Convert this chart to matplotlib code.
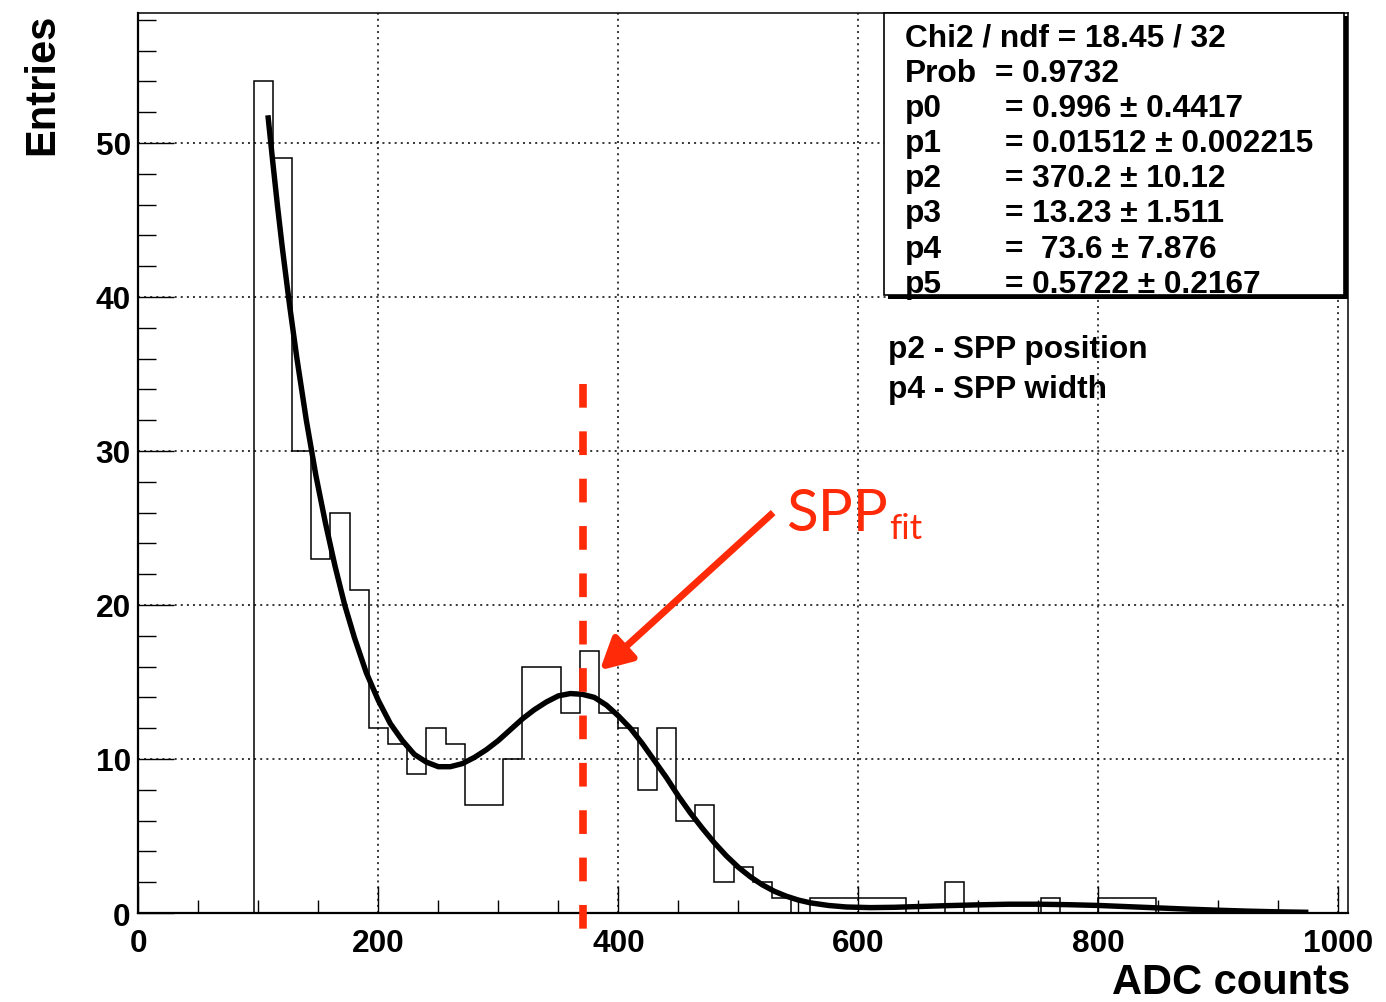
import matplotlib
matplotlib.use('Agg')
import matplotlib.pyplot as plt
import numpy as np
from matplotlib.patches import Rectangle
from matplotlib.ticker import MultipleLocator, FixedLocator

# ---------------- data ----------------
bin_width = 16
x_range = (0, 1008)
counts = [0, 0, 0, 0, 0, 0, 54, 49, 30, 23, 26, 21, 12, 11, 9, 12, 11, 7, 7, 10,
          16, 16, 13, 17, 13, 12, 8, 12, 6, 7, 2, 3, 2, 1, 0, 1, 1, 1, 1, 1,
          0, 0, 2, 0, 0, 0, 0, 1, 0, 0, 1, 1, 1, 0, 0, 0, 0, 0, 0, 0, 0, 0, 0]

fit_x = [108, 112, 116, 120, 126, 132, 140, 148, 156, 164, 172, 180, 190, 200, 210,
         220, 230, 240, 250, 260, 270, 280, 290, 300, 310, 320, 330, 340, 350, 360,
         370, 380, 390, 400, 410, 420, 430, 440, 450, 460, 470, 480, 490, 500, 510,
         520, 530, 540, 550, 560, 575, 590, 610, 630, 650, 675, 700, 725, 750, 775,
         800, 825, 850, 875, 900, 925, 950, 975]
fit_y = [51.8, 48.8, 45.9, 43.2, 39.5, 36.1, 32.0, 28.4, 25.3, 22.5, 20.0, 17.9, 15.6,
         13.8, 12.3, 11.2, 10.3, 9.8, 9.5, 9.5, 9.7, 10.1, 10.6, 11.2, 11.9, 12.6, 13.2,
         13.7, 14.1, 14.25, 14.2, 14.0, 13.5, 12.8, 12.0, 11.0, 9.9, 8.8, 7.6, 6.5, 5.5,
         4.56, 3.71, 2.97, 2.35, 1.83, 1.41, 1.09, 0.84, 0.66, 0.49, 0.39, 0.35, 0.37,
         0.42, 0.48, 0.53, 0.57, 0.57, 0.54, 0.49, 0.41, 0.33, 0.25, 0.18, 0.12, 0.075,
         0.045]

spp_position = 370.2
spp_line_y = (34.35, -1.05)
arrow_tail = (529.0, 26.0)
arrow_tip = (384.5, 15.75)
spp_label_pos = (540.0, 24.9)

x_ticks = [0, 200, 400, 600, 800, 1000]
x_tick_labels = ['0', '200', '400', '600', '800', '1000']
y_ticks = [0, 10, 20, 30, 40, 50]
y_tick_labels = ['0', '10', '20', '30', '40', '50']

stats_lines = [
    ('Chi2 / ndf = 18.45 / 32', None),
    ('Prob', '= 0.9732'),
    ('p0', '= 0.996 \u00b1 0.4417'),
    ('p1', '= 0.01512 \u00b1 0.002215'),
    ('p2', '= 370.2 \u00b1 10.12'),
    ('p3', '= 13.23 \u00b1 1.511'),
    ('p4', '=  73.6 \u00b1 7.876'),
    ('p5', '= 0.5722 \u00b1 0.2167'),
]
notes = ['p2 - SPP position', 'p4 - SPP width']

# ---------------- figure ----------------
W, H = 1386, 1003
DPI = 100
fig = plt.figure(figsize=(W / DPI, H / DPI), dpi=DPI)
fig.patch.set_facecolor('white')

def fx(px):
    return px / W

def fy(py):
    return 1 - py / H

ax_l, ax_r, ax_t, ax_b = 138.3, 1348.0, 14.0, 914.0
ax = fig.add_axes([fx(ax_l), fy(ax_b), fx(ax_r) - fx(ax_l), fy(ax_t) - fy(ax_b)])

FONT = ['Liberation Sans', 'DejaVu Sans']
RED = '#ff2a08'
TXT = 22.8

edges = np.arange(x_range[0], x_range[1] + bin_width, bin_width)
ax.stairs(counts, edges, color='black', lw=1.1, zorder=3)
ax.plot(fit_x, fit_y, color='black', lw=3.9, solid_joinstyle='round',
        solid_capstyle='butt', zorder=4)

ax.set_xlim(*x_range)
ax.set_ylim(0, 58.44)

ax.xaxis.set_major_locator(FixedLocator(x_ticks))
ax.set_xticklabels(x_tick_labels)
ax.xaxis.set_minor_locator(MultipleLocator(50))
ax.yaxis.set_major_locator(FixedLocator(y_ticks))
ax.set_yticklabels(y_tick_labels)
ax.yaxis.set_minor_locator(MultipleLocator(2))

ax.tick_params(axis='x', which='major', direction='in', length=19.4, width=1.0,
               pad=11.0, top=False, labelsize=TXT)
ax.tick_params(axis='x', which='minor', direction='in', length=9.7, width=1.0, top=False)
ax.tick_params(axis='y', which='major', direction='in', length=26, width=1.0,
               pad=5.5, right=False, labelsize=TXT)
ax.tick_params(axis='y', which='minor', direction='in', length=13, width=1.0, right=False)
for lab in ax.get_xticklabels() + ax.get_yticklabels():
    lab.set_family(FONT)
    lab.set_fontweight('bold')

for side in ['left', 'bottom']:
    ax.spines[side].set_linewidth(1.6)
for side in ['top', 'right']:
    ax.spines[side].set_linewidth(1.1)

ax.grid(True, which='major', color='black', linestyle=(0, (1.3, 2.7)), lw=1.1)
ax.set_axisbelow(True)

# red dashed SPP line
ax.plot([spp_position, spp_position], list(spp_line_y), color=RED, lw=5.5,
        dashes=(3.1, 3.1), dash_capstyle='butt', clip_on=False, zorder=5)

# arrow
ax.annotate('', xy=arrow_tip, xytext=arrow_tail, xycoords='data',
            arrowprops=dict(arrowstyle='-|>,head_length=1.9,head_width=1.0',
                            mutation_scale=10, lw=5, color=RED,
                            shrinkA=0, shrinkB=0, capstyle='butt'), zorder=6)
spp = ax.text(spp_label_pos[0], spp_label_pos[1], 'SPP', color=RED, fontsize=42,
              family=['Lato', 'DejaVu Sans'], va='baseline', ha='left', zorder=6)
ax.annotate('fit', xy=(1, 0), xycoords=spp, xytext=(0.5, -3), textcoords='offset points',
            color=RED, fontsize=25, family=['Lato', 'DejaVu Sans'], va='bottom',
            ha='left', zorder=6)

# axis titles
fig.text(fx(42), fy(14), 'Entries', rotation=90, ha='center', va='top',
         fontsize=30, fontweight='bold', family=FONT)
fig.text(fx(1350), fy(994), 'ADC counts', ha='right', va='baseline',
         fontsize=30, fontweight='bold', family=FONT)

# stats box with shadow
bx0, by0, bx1, by1 = 884, 13.5, 1344, 296
fig.add_artist(Rectangle((fx(bx0 + 3.5), fy(by1 + 3.5)), fx(bx1) - fx(bx0), fy(by0) - fy(by1),
                         transform=fig.transFigure, facecolor='black', edgecolor='black',
                         lw=0, zorder=10))
fig.add_artist(Rectangle((fx(bx0), fy(by1)), fx(bx1) - fx(bx0), fy(by0) - fy(by1),
                         transform=fig.transFigure, facecolor='white', edgecolor='black',
                         lw=1.2, zorder=11))
baselines = [46.7, 81.7, 116.7, 151.7, 186.7, 222.3, 258.3, 293.3]
for (name, val), b in zip(stats_lines, baselines):
    fig.text(fx(905), fy(b), name, ha='left', va='baseline', fontsize=TXT,
             fontweight='bold', family=FONT, zorder=12)
    if val is not None:
        xv = 995 if name == 'Prob' else 1005
        fig.text(fx(xv), fy(b), val, ha='left', va='baseline', fontsize=TXT,
                 fontweight='bold', family=FONT, zorder=12)

for txt, b in zip(notes, [358.5, 398.0]):
    fig.text(fx(888), fy(b), txt, ha='left', va='baseline', fontsize=TXT,
             fontweight='bold', family=FONT, zorder=12)

fig.savefig('out.png', dpi=DPI)
